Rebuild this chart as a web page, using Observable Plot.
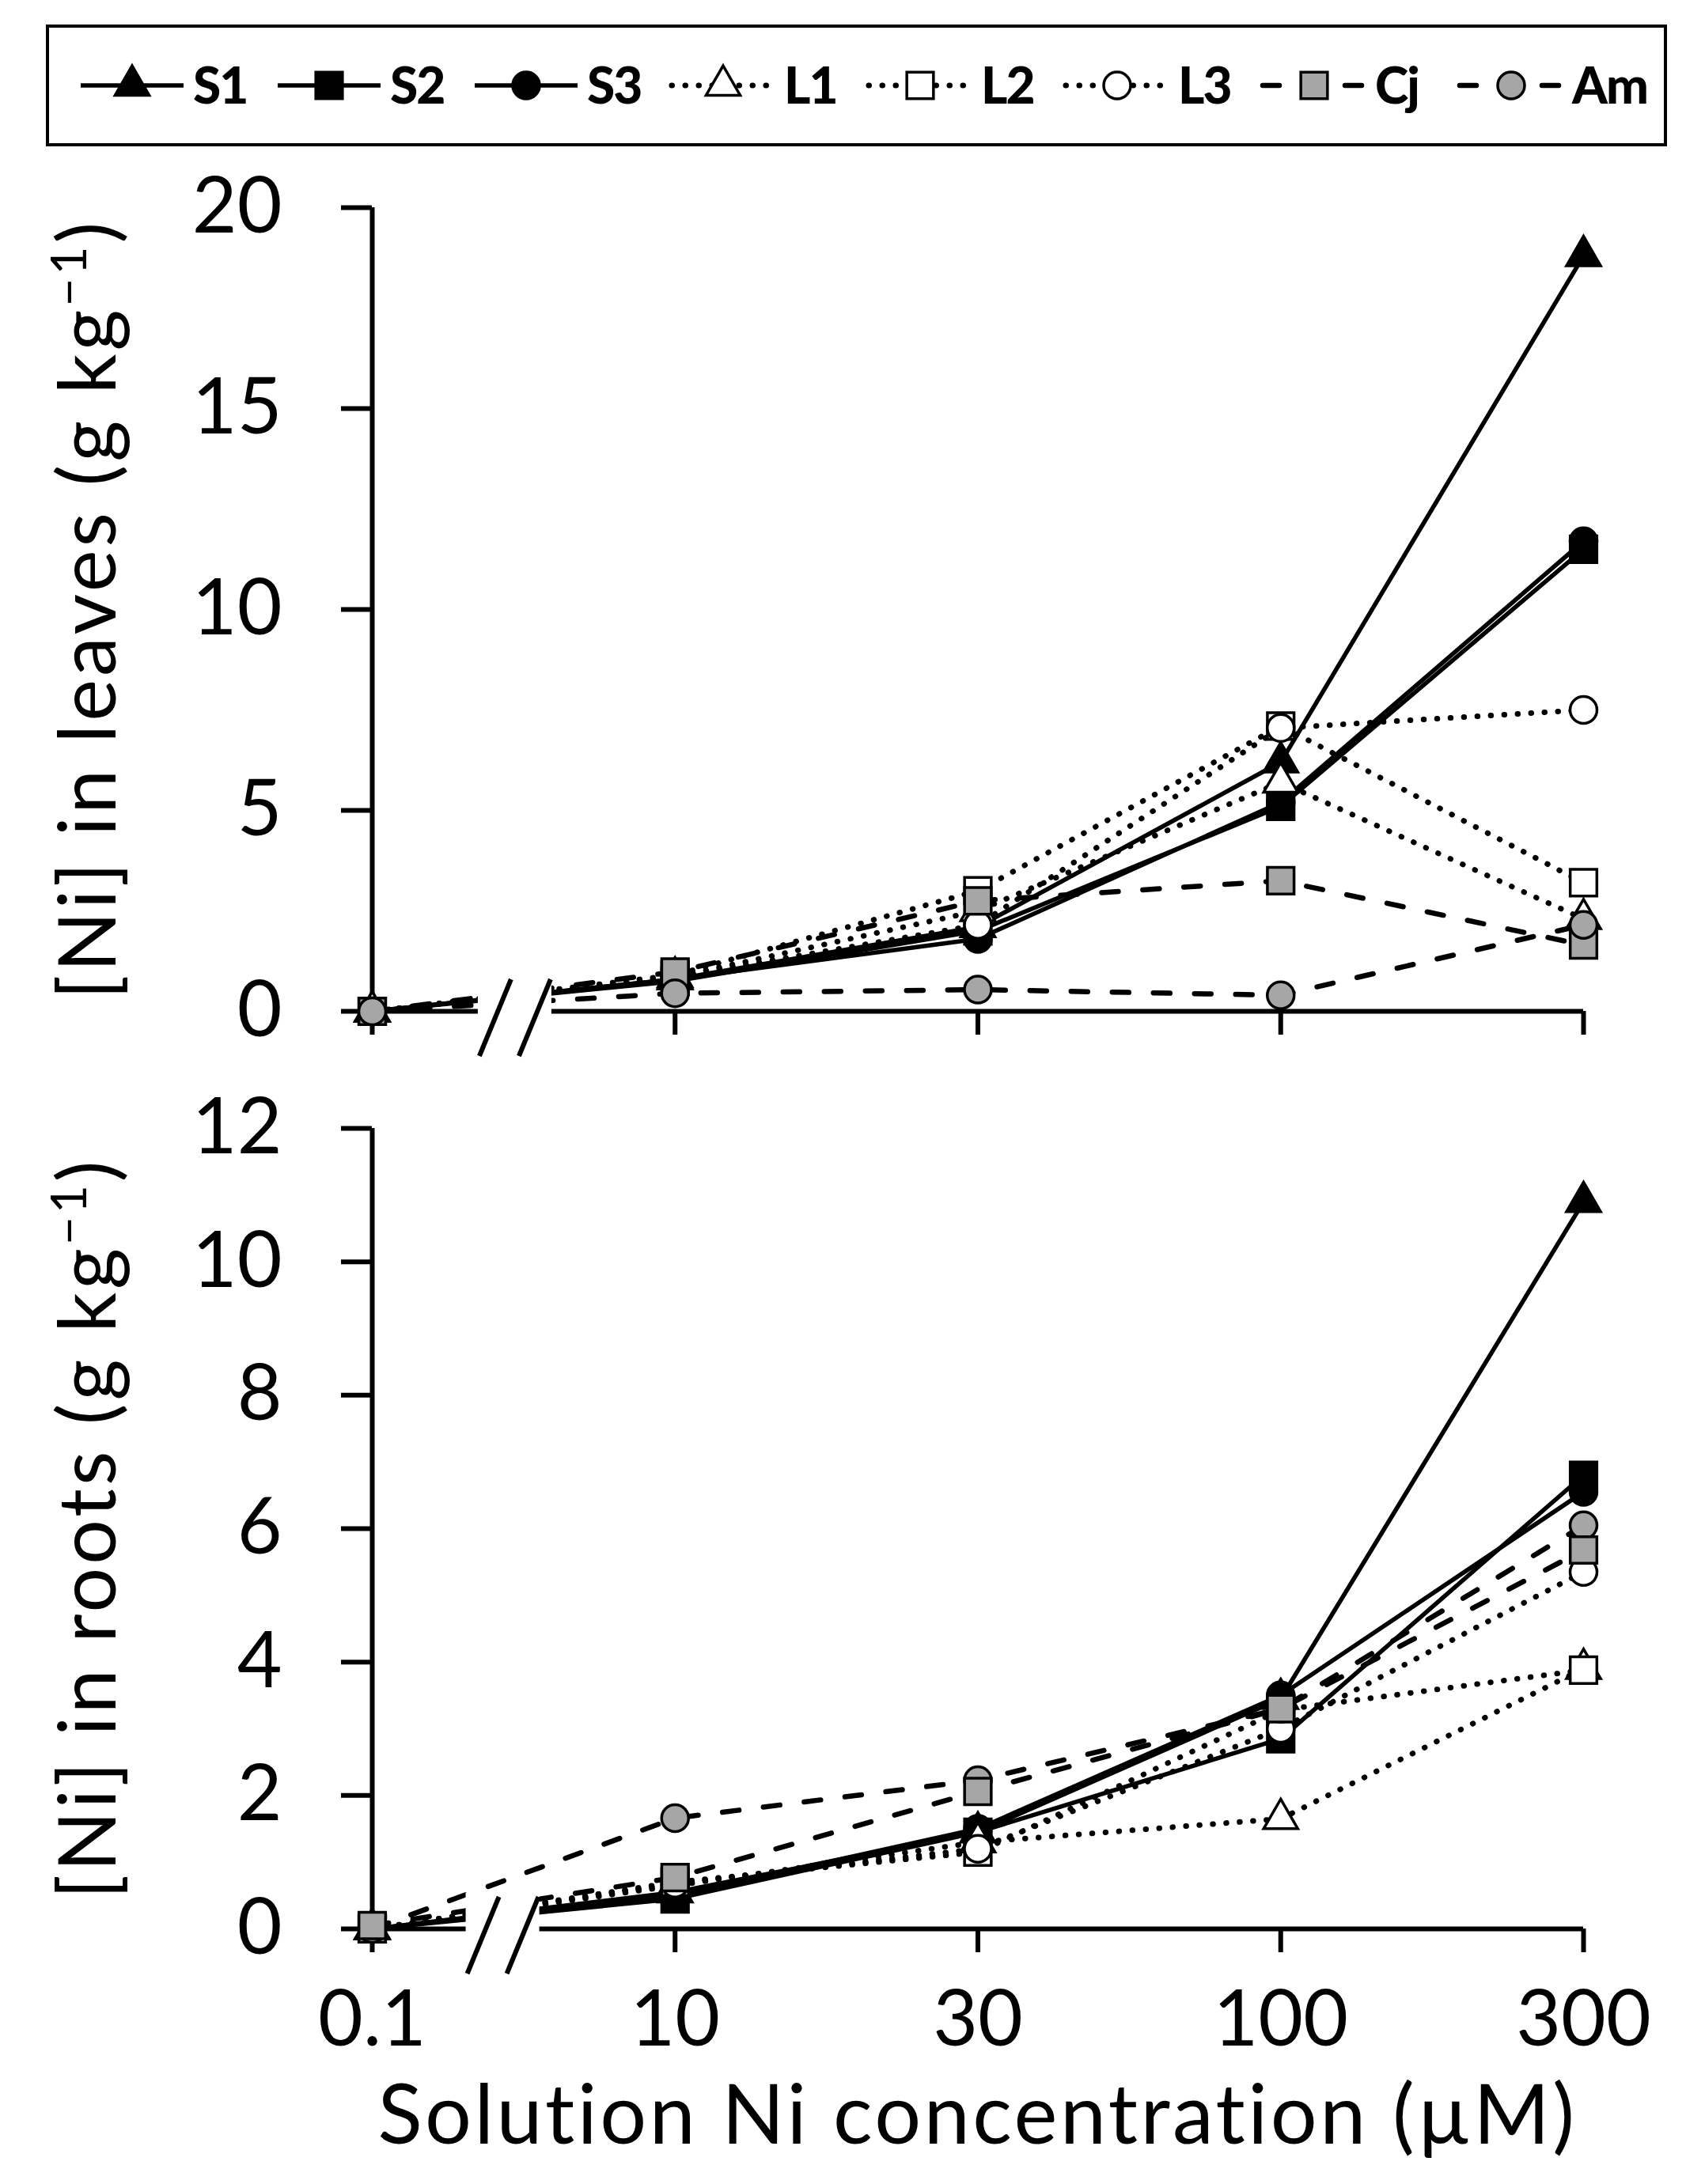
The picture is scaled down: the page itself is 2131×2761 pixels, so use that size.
<!DOCTYPE html>
<html><head><meta charset="utf-8">
<script src="https://cdn.jsdelivr.net/npm/d3@7"></script>
<script src="https://cdn.jsdelivr.net/npm/@observablehq/plot@0.6"></script>
<style>
html,body{margin:0;padding:0;background:#fff;}
#chart{width:2131px;}
svg{display:block;font-variant-ligatures:none;}
</style></head><body><div id="chart"></div>
<script>
// ---- data ----
const categories = ["0.1", "10", "30", "100", "300"];   // solution Ni (µM), evenly spaced categories
const seriesNames = ["S1", "S2", "S3", "L1", "L2", "L3", "Cj", "Am"];

// [Ni] in leaves (g kg-1)
const leavesS1 = [0, 0.80, 2.10, 6.20, 18.8];
const leavesS2 = [0, 0.75, 2.00, 5.10, 11.5];
const leavesS3 = [0, 0.80, 1.80, 5.20, 11.7];
const leavesL1 = [0, 0.85, 2.50, 5.70, 2.30];
const leavesL2 = [0, 0.90, 3.00, 7.10, 3.20];
const leavesL3 = [0, 0.85, 2.15, 7.05, 7.50];
const leavesCj = [0, 0.98, 2.75, 3.25, 1.65];
const leavesAm = [0, 0.45, 0.54, 0.40, 2.15];

// [Ni] in roots (g kg-1)
const rootsS1 = [0, 0.55, 1.45, 3.45, 10.9];
const rootsS2 = [0, 0.45, 1.45, 2.85, 6.80];
const rootsS3 = [0, 0.50, 1.50, 3.50, 6.55];
const rootsL1 = [0, 0.65, 1.30, 1.65, 3.90];
const rootsL2 = [0, 0.70, 1.15, 3.28, 3.88];
const rootsL3 = [0, 0.68, 1.20, 3.00, 5.35];
const rootsCj = [0.05, 0.77, 2.06, 3.30, 5.68];
const rootsAm = [0, 1.66, 2.23, 3.30, 6.05];

const leavesTicks = [0, 5, 10, 15, 20];
const rootsTicks = [0, 2, 4, 6, 8, 10, 12];

// drawing order (later = on top), as seen in each panel
const leavesOrder = ["S1", "S2", "S3", "L1", "L2", "L3", "Cj", "Am"];
const rootsOrder = ["S1", "S2", "S3", "L1", "L2", "L3", "Am", "Cj"];

const leaves = {S1: leavesS1, S2: leavesS2, S3: leavesS3, L1: leavesL1, L2: leavesL2, L3: leavesL3, Cj: leavesCj, Am: leavesAm};
const roots = {S1: rootsS1, S2: rootsS2, S3: rootsS3, L1: rootsL1, L2: rootsL2, L3: rootsL3, Cj: rootsCj, Am: rootsAm};

// ---- styles ----
const FONT = "Lato, 'Open Sans', sans-serif";
const GRAY = "#a6a6a6";
const solid = {dash: null, width: 5.5, cap: "butt"};
const dotted = {dash: "0.5,16.5", width: 7, cap: "round"};
const dashed = {dash: "21,31", width: 6.5, cap: "round"};
const styles = {
  S1: {...solid, symbol: "triangle", r: 16, fill: "black"},
  S2: {...solid, symbol: "square", r: 19, fill: "black"},
  S3: {...solid, symbol: "circle", r: 17, fill: "black"},
  L1: {...dotted, symbol: "triangle", r: 16, fill: "white"},
  L2: {...dotted, symbol: "square", r: 19, fill: "white"},
  L3: {...dotted, symbol: "circle", r: 17, fill: "white"},
  Cj: {...dashed, symbol: "square", r: 19, fill: GRAY},
  Am: {...dashed, symbol: "circle", r: 17, fill: GRAY}
};
const symbolMap = {triangle: d3.symbolTriangle, square: d3.symbolSquare, circle: d3.symbolCircle};

// ---- decorations via scales ----
function axisBreak(at) {
  return (index, scales, values, dims) => {
    const cx = scales.x(at), cy = scales.y(0);
    const g = d3.create("svg:g");
    g.append("rect").attr("x", cx - 46).attr("y", cy - 45).attr("width", 93).attr("height", 108).attr("fill", "white");
    for (const dx of [-44, 6]) {
      g.append("line").attr("x1", cx + dx).attr("y1", cy + 57).attr("x2", cx + dx + 40).attr("y2", cy - 40)
        .attr("stroke", "black").attr("stroke-width", 6);
    }
    return g.node();
  };
}
function yTitle(main) {
  return (index, scales, values, dims) => {
    const cy = (dims.marginTop + dims.height - dims.marginBottom) / 2;
    const t = d3.create("svg:text")
      .attr("transform", `translate(146,${cy}) rotate(-90)`)
      .attr("text-anchor", "middle").attr("font-family", FONT).attr("font-size", 100)
      .attr("letter-spacing", 4).attr("fill", "black");
    t.append("tspan").text(main);
    t.append("tspan").attr("baseline-shift", "super").attr("font-size", 62).text("−1");
    t.append("tspan").text(")");
    return t.node();
  };
}
function xTitle(text, baselineFromAxis) {
  return (index, scales, values, dims) => {
    const cx = (dims.marginLeft + dims.width - dims.marginRight) / 2;
    return d3.create("svg:text").attr("x", cx).attr("y", dims.height - dims.marginBottom + baselineFromAxis)
      .attr("text-anchor", "middle").attr("font-family", FONT).attr("font-size", 104)
      .attr("letter-spacing", 3.5).attr("fill", "black")
      .text(text).node();
  };
}

function panel({values, order, yDomain, yTicks, height, marginTop, marginBottom, showXLabels, title, breakAt}) {
  const rows = seriesNames.flatMap(s => values[s].map((v, i) => ({series: s, xi: i, v})));
  const marks = [
    Plot.ruleX([0], {stroke: "black", strokeWidth: 6}),
    Plot.ruleY([0], {stroke: "black", strokeWidth: 6}),
    Plot.axisY({ticks: yTicks, tickSize: 39, tickPadding: 75, fontSize: 98, strokeWidth: 6, label: null, fontFamily: FONT}),
    Plot.axisX({ticks: categories.map((c, i) => i), tickFormat: showXLabels ? (i => categories[i]) : (() => ""),
      tickSize: 30, tickPadding: 48, fontSize: 98, strokeWidth: 6, label: null, fontFamily: FONT})
  ];
  for (const s of order) {
    const st = styles[s];
    const data = rows.filter(r => r.series === s);
    marks.push(Plot.line(data, {x: "xi", y: "v", stroke: "black", strokeWidth: st.width,
      strokeDasharray: st.dash, strokeLinecap: st.cap, strokeLinejoin: "round"}));
    marks.push(Plot.dot(data, {x: "xi", y: "v", symbol: st.symbol, r: st.r, fill: st.fill, stroke: "black", strokeWidth: 3.5}));
  }
  marks.push(axisBreak(breakAt));
  marks.push(yTitle(title));
  if (showXLabels) marks.push(xTitle("Solution Ni concentration (µM)", 272));
  return Plot.plot({
    width: 2131, height, marginTop, marginBottom, marginLeft: 470, marginRight: 130,
    style: {fontFamily: FONT, background: "white", color: "black", overflow: "visible"},
    x: {type: "linear", domain: [0, categories.length - 1]},
    y: {domain: yDomain},
    marks
  });
}

// ---- legend ----
const legend = d3.create("svg").attr("width", 2131).attr("height", 200);
legend.append("rect").attr("x", 60).attr("y", 33).attr("width", 2045).attr("height", 150)
  .attr("fill", "white").attr("stroke", "black").attr("stroke-width", 4);
seriesNames.forEach((s, i) => {
  const st = styles[s];
  const x0 = 102 + i * 249, cy = 108;
  legend.append("line").attr("x1", x0).attr("x2", x0 + 130).attr("y1", cy).attr("y2", cy)
    .attr("stroke", "black").attr("stroke-width", st.width).attr("stroke-dasharray", st.dash).attr("stroke-linecap", st.cap);
  legend.append("path").attr("transform", `translate(${x0 + 65},${cy})`)
    .attr("d", d3.symbol(symbolMap[st.symbol], Math.PI * st.r * st.r)())
    .attr("fill", st.fill).attr("stroke", "black").attr("stroke-width", 3.5);
  legend.append("text").attr("x", x0 + 142).attr("y", cy).attr("dy", "0.36em")
    .attr("font-family", FONT).attr("font-weight", 900).attr("font-size", 64).attr("letter-spacing", -2)
    .attr("fill", "black").text(s);
});

const chart = document.getElementById("chart");
chart.append(legend.node());
chart.append(panel({values: leaves, order: leavesOrder, yDomain: [0, 20], yTicks: leavesTicks, height: 1150,
  marginTop: 62, marginBottom: 72, showXLabels: false, title: "[Ni] in leaves (g kg", breakAt: 0.47}));
chart.append(panel({values: roots, order: rootsOrder, yDomain: [0, 12], yTicks: rootsTicks, height: 1411,
  marginTop: 76, marginBottom: 323, showXLabels: true, title: "[Ni] in roots (g kg", breakAt: 0.43}));
</script></body></html>
